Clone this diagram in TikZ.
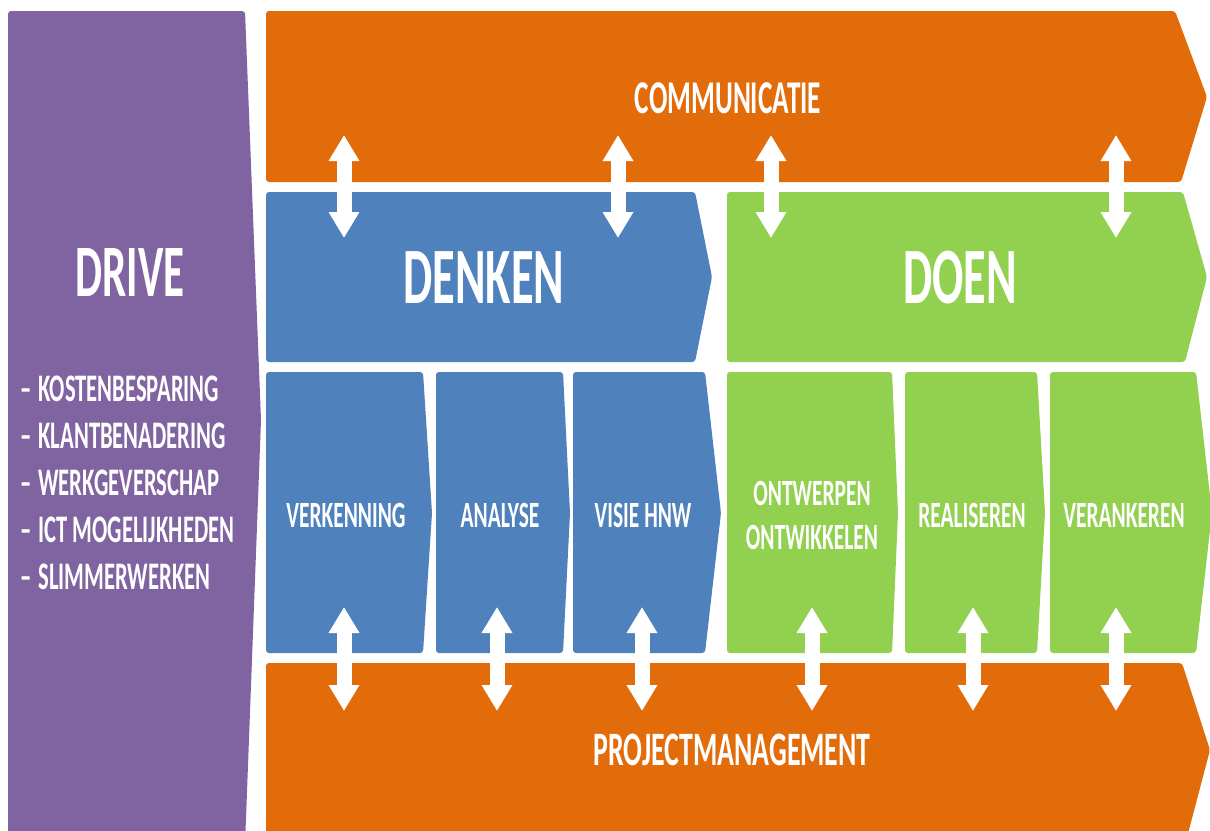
\documentclass[tikz,border=0pt]{standalone}
\usepackage{fontspec}
\setmainfont[FakeStretch=0.58]{Carlito}
\usepackage{tikz}
\usetikzlibrary{arrows.meta}
\definecolor{DrivePurple}{RGB}{128,100,162}
\definecolor{BandOrange}{RGB}{227,108,10}
\definecolor{ThinkBlue}{RGB}{79,129,189}
\definecolor{DoGreen}{RGB}{146,208,80}
\begin{document}
\begin{tikzpicture}[x=1pt,y=-1pt,
  lbl/.style={text=white,inner sep=0pt,font=\bfseries\fontsize{37}{44}\selectfont},
  big/.style={text=white,inner sep=0pt,font=\bfseries\fontsize{80}{90}\selectfont},
  band/.style={text=white,inner sep=0pt,font=\bfseries\fontsize{48}{54}\selectfont},
  dbl/.style={white,line width=15pt,{Triangle[width=29pt,length=26pt]}-{Triangle[width=29pt,length=26pt]}}]
  \clip (0,0) rectangle (1210,830);
  \fill[white] (0,0) rectangle (1210,830);
  % drive column
  \fill[DrivePurple,rounded corners=3pt] (8,11) -- (245,11) -- (261,420) -- (245,845) -- (8,845) -- cycle;
  \node[big,font=\bfseries\fontsize{74}{80}\selectfont] (drive) at (130,273) {DRIVE};
  \foreach \i/\txt in {1/KOSTENBESPARING,2/KLANTBENADERING,3/WERKGEVERSCHAP,4/ICT MOGELIJKHEDEN,5/SLIMMERWERKEN}
    \node[lbl,font=\bfseries\fontsize{39}{44}\selectfont,anchor=base west] (d\i) at (20,{354+47*\i}) {–\hspace{7pt}\txt};
  % communicatie and projectmanagement bands
  \fill[BandOrange,rounded corners=3pt] (266,11) -- (1175,11) -- (1207,97) -- (1181,182) -- (266,182) -- cycle;
  \fill[BandOrange,rounded corners=3pt] (266,663) -- (1182,663) -- (1210,750) -- (1185,845) -- (266,845) -- cycle;
  \node[band,font=\bfseries\fontsize{47}{54}\selectfont] (comm) at (728,98) {COMMUNICATIE};
  \node[band] (pm) at (732,750) {PROJECTMANAGEMENT};
  % denken / doen
  \fill[ThinkBlue,rounded corners=3pt] (266,192) -- (695,192) -- (712,277) -- (695,362) -- (266,362) -- cycle;
  \fill[DoGreen,rounded corners=3pt] (727,192) -- (1183,192) -- (1207,277) -- (1185,362) -- (727,362) -- cycle;
  \node[big] (denken) at (484,278) {DENKEN};
  \node[big] (doen) at (960,278) {DOEN};
  % phases
  \foreach \n/\l/\r/\t/\c in {verk/266/423/432/ThinkBlue,anal/436/563/570/ThinkBlue,visie/573/705/721/ThinkBlue,
                              ontw/727/892/898/DoGreen,real/905/1037/1045/DoGreen,veran/1050/1196/1212/DoGreen}{
    \fill[\c,rounded corners=3pt] (\l,372) -- (\r,372) -- (\t,513) -- (\r,653) -- (\l,653) -- cycle;
    \coordinate (\n) at ({(\l+\r)/2},515);}
  \node[lbl] (verkT) at (346,515) {VERKENNING};
  \node[lbl] (analT) at (500,515) {ANALYSE};
  \node[lbl] (visieT) at (643,515) {VISIE HNW};
  \node[lbl,align=center] (ontwT) at (812,515) {ONTWERPEN\\ONTWIKKELEN};
  \node[lbl] (realT) at (972,515) {REALISEREN};
  \node[lbl] (veranT) at (1124,515) {VERANKEREN};
  % two-way arrows
  \foreach \i/\x in {1/344,2/618,3/771,4/1116}{
    \coordinate (ta\i) at (\x,135);
    \coordinate (tb\i) at (\x,238);
    \draw[dbl] (ta\i) -- (tb\i);}
  \foreach \i/\x in {1/344,2/497,3/642,4/812,5/973,6/1116}{
    \coordinate (ba\i) at (\x,607);
    \coordinate (bb\i) at (\x,711);
    \draw[dbl] (ba\i) -- (bb\i);}
\end{tikzpicture}
\end{document}
